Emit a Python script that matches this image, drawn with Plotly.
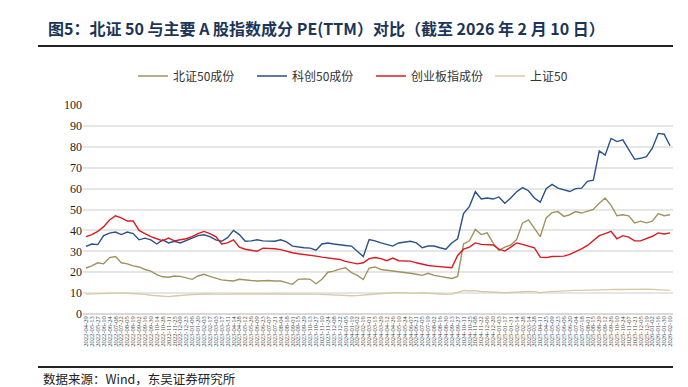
import plotly.graph_objects as go

dates = [
    "2022-04-29", "2022-05-13", "2022-05-27", "2022-06-10", "2022-06-24", "2022-07-08", "2022-07-22",
    "2022-08-05", "2022-08-19", "2022-09-02", "2022-09-16", "2022-09-30", "2022-10-14", "2022-10-28",
    "2022-11-11", "2022-11-25", "2022-12-09", "2022-12-23",
    "2023-01-06", "2023-01-20", "2023-02-03", "2023-02-17", "2023-03-03", "2023-03-17", "2023-03-31",
    "2023-04-14", "2023-04-28", "2023-05-12", "2023-05-26", "2023-06-09", "2023-06-23", "2023-07-07",
    "2023-07-21", "2023-08-04", "2023-08-18", "2023-09-01", "2023-09-15", "2023-09-29", "2023-10-13",
    "2023-10-27", "2023-11-10", "2023-11-24", "2023-12-08", "2023-12-22",
    "2024-01-05", "2024-01-19", "2024-02-02", "2024-02-16", "2024-03-01", "2024-03-15", "2024-03-29",
    "2024-04-12", "2024-04-26", "2024-05-10", "2024-05-24", "2024-06-07", "2024-06-21", "2024-07-05",
    "2024-07-19", "2024-08-02", "2024-08-16", "2024-08-30", "2024-09-13", "2024-09-27", "2024-10-11",
    "2024-10-25", "2024-11-08", "2024-11-22", "2024-12-06", "2024-12-20",
    "2025-01-03", "2025-01-17", "2025-01-31", "2025-02-14", "2025-02-28", "2025-03-14", "2025-03-28",
    "2025-04-11", "2025-04-25", "2025-05-09", "2025-05-23", "2025-06-06", "2025-06-20", "2025-07-04",
    "2025-07-18", "2025-08-01", "2025-08-15", "2025-08-29", "2025-09-12", "2025-09-26", "2025-10-10",
    "2025-10-24", "2025-11-07", "2025-11-21", "2025-12-05", "2025-12-19",
    "2026-01-02", "2026-01-16", "2026-01-30", "2026-02-10",
]

bz50 = [
    22, 23, 24.5, 24, 27, 27.5, 24.5, 24, 23, 22.5,
    21.3, 20.5, 18.8, 17.8, 17.6, 18.2, 18, 17.2, 16.6, 18.2,
    19, 18, 17, 16.3, 16, 15.8, 16.6, 16.2, 16, 15.8,
    16, 16, 15.8, 15.8, 15, 14.2, 16.6, 16.8, 16.6, 14.5,
    16.6, 20, 20.5, 21.5, 22.1, 19.8, 18.5, 16.5, 22, 22.5,
    21.3, 21, 20.5, 20.2, 19.8, 19.5, 19, 18.5, 19.5, 18.5,
    18, 17.4, 17, 18, 33.5, 35, 40.5, 38, 38.8, 34,
    30.5, 32, 33, 35.6, 43.6, 45, 41.2, 37, 46, 48.5,
    49, 46.7, 47.5, 49, 48.3, 49, 50, 53, 55.5, 52,
    47, 47.5, 47, 43.6, 44.4, 43.6, 44.4, 48, 47, 47.5,
]

kc50 = [
    32.4, 33.5, 33.2, 37.5, 38.7, 39.2, 38, 39.2, 38.5, 35.5,
    36.3, 35.5, 33.5, 35.5, 34, 34.8, 34, 35.2, 36.5, 37.5,
    37.9, 37, 35.5, 34.8, 36.5, 40, 38, 34.8, 35, 35.5,
    35, 34.8, 34.8, 35.5, 34.5, 32.5, 32, 31.7, 31.5, 30.5,
    33.5, 34, 33.5, 33.3, 32.8, 32.5, 30, 27.5, 35.6, 35,
    34, 33.3, 32.5, 34, 34.5, 34.8, 34, 31.7, 32.5, 32.5,
    31.7, 31, 34, 36, 48, 51.5, 58.5, 55, 55.5, 55,
    56, 53, 55.5, 58.5, 60.5, 59, 55.5, 53.5, 60, 62,
    60.2, 59.5, 58.6, 60, 60.2, 63.5, 64, 78, 76, 84,
    82.5, 83.3, 78.5, 74, 74.5, 75.3, 79.3, 86.4, 86, 80.5,
]

cyb = [
    37, 38, 39.5, 41.8, 45, 47, 46, 44.5, 44.5, 40,
    38.5, 37, 36, 35, 36.3, 35, 35.5, 36, 37, 38.5,
    39.5, 38.5, 37, 33.5, 34, 35.5, 32, 31, 30.5, 30,
    31.5, 31.5, 31.2, 30.8, 30, 29.3, 28.8, 28.5, 28, 27.7,
    27.2, 26.9, 26.5, 26.1, 25.2, 24.5, 24, 24.5, 26.5, 27,
    26.5, 25.5, 26.8, 25.5, 25.3, 25.3, 24.5, 23.7, 23.2, 22.9,
    22.6, 22.1, 22.1, 28, 31, 32, 34, 33.3, 33.3, 33,
    31, 30.1, 32, 34, 33.3, 32.5, 31.7, 27.2, 27, 27.5,
    27.7, 27.7, 28.5, 29.8, 31.2, 32.8, 35, 37.5, 38.5, 39.6,
    36, 37.5, 36.8, 35, 35, 36, 37.2, 38.8, 38.3, 38.8,
]

sz50 = [
    9.5, 9.6, 9.7, 9.9, 10.2, 10.3, 10.1, 9.9, 9.8, 9.6,
    9.4, 9.0, 8.7, 8.5, 8.3, 8.6, 9.0, 9.1, 9.3, 9.5,
    9.5, 9.6, 9.5, 9.4, 9.5, 9.6, 9.6, 9.7, 9.8, 9.8,
    9.8, 9.8, 9.7, 9.7, 9.7, 9.8, 9.8, 9.7, 9.6, 9.5,
    9.4, 9.2, 9.0, 8.8, 8.7, 8.7, 8.8, 8.9, 9.3, 9.6,
    9.9, 10.1, 10.2, 10.2, 10.1, 10.2, 10.0, 10.2, 10.1, 9.8,
    9.6, 9.4, 9.5, 10.3, 11.3, 11.0, 11.2, 10.8, 10.6, 10.5,
    10.3, 10.2, 10.3, 10.5, 10.6, 10.8, 10.7, 10.2, 10.6, 10.8,
    10.9, 11.0, 11.1, 11.3, 11.3, 11.4, 11.5, 11.7, 11.8, 11.9,
    11.8, 11.7, 11.8, 11.8, 11.9, 11.9, 11.8, 11.6, 11.5, 11.3,
]

series_names = ["北证50成份", "科创50成份", "创业板指成份", "上证50"]
series_values = [bz50, kc50, cyb, sz50]
series_colors = ["#A0935F", "#2A5188", "#DC1820", "#D6CAA6"]

y_ticks = list(range(0, 101, 10))

fig = go.Figure()
for name, vals, col in zip(series_names, series_values, series_colors):
    fig.add_trace(go.Scatter(
        x=dates, y=vals, name=name, mode="lines",
        line=dict(color=col, width=1.4),
    ))

# plot area in pixels: x 75..665, y 97..306
PX0, PX1, PY0, PY1 = 75, 665, 97, 306
def px(x):
    return (x - PX0) / (PX1 - PX0)
def py(y):
    return (PY1 - y) / (PY1 - PY0)

fig.update_layout(
    width=688, height=387,
    margin=dict(l=PX0, r=688 - PX1, t=PY0, b=387 - PY1),
    paper_bgcolor="white", plot_bgcolor="white",
    font=dict(family="Noto Sans CJK SC", color="#333333"),
    showlegend=True,
    legend=dict(
        orientation="h", x=px(125), xanchor="left", y=py(68), yanchor="middle",
        font=dict(size=12, color="#333333", family="Noto Sans CJK SC"),
        entrywidth=74, entrywidthmode="pixels",
        tracegroupgap=0, bgcolor="rgba(0,0,0,0)",
    ),
    xaxis=dict(
        type="category", range=[-0.5, len(dates) - 0.5],
        tickmode="array", tickvals=dates, ticktext=dates,
        tickangle=-90, tickfont=dict(size=6.5, family="Liberation Serif", color="#444444"),
        showgrid=False, showline=False, ticks="", zeroline=False,
    ),
    yaxis=dict(
        range=[0, 100], tickvals=y_ticks,
        tickfont=dict(size=12, family="Liberation Serif", color="#222222"),
        showgrid=True, gridcolor="#E6E6E6", gridwidth=1.5,
        zeroline=True, zerolinecolor="#D9D9D9", zerolinewidth=1.5,
        showline=False, ticks="",
    ),
)

fig.add_annotation(
    text="<b>图5：北证 50 与主要 A 股指数成分 PE(TTM）对比（截至 2026 年 2 月 10 日）</b>",
    xref="paper", yref="paper", x=px(38), y=py(20), xanchor="left", yanchor="middle",
    showarrow=False, font=dict(size=16, color="#1B3558", family="Noto Sans CJK SC"),
)
fig.add_annotation(
    text="数据来源：Wind，东吴证券研究所",
    xref="paper", yref="paper", x=px(33), y=py(370), xanchor="left", yanchor="middle",
    showarrow=False, font=dict(size=12.5, color="#222222", family="Noto Sans CJK SC"),
)
fig.add_shape(type="line", xref="paper", yref="paper",
              x0=px(30), x1=px(665), y0=py(38), y1=py(38),
              line=dict(color="#222222", width=2))
fig.add_shape(type="line", xref="paper", yref="paper",
              x0=px(30), x1=px(665), y0=py(359), y1=py(359),
              line=dict(color="#222222", width=2))

fig.write_html("out.html")
